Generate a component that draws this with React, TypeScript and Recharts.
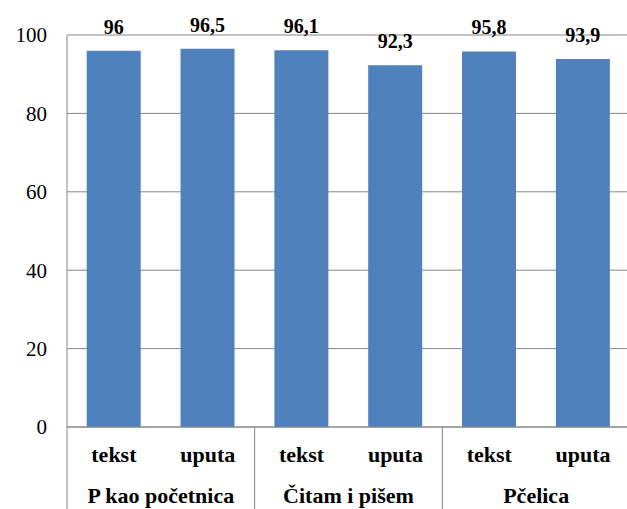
import React from 'react';
import { BarChart, Bar, XAxis, YAxis, CartesianGrid, LabelList } from 'recharts';

const groups = ['P kao početnica', 'Čitam i pišem', 'Pčelica'];
const subLabels = ['tekst', 'uputa'];
const values = [96, 96.5, 96.1, 92.3, 95.8, 93.9];
const yTicks = [0, 20, 40, 60, 80, 100];

const data = values.map((v, i) => ({
  name: `${groups[Math.floor(i / 2)]}-${subLabels[i % 2]}`,
  sub: subLabels[i % 2],
  group: groups[Math.floor(i / 2)],
  value: v,
}));

const CHART_W = 630;
const CHART_H = 509;
const Y_AXIS_W = 67;
const X_AXIS_H = 82;
const catWidth = (CHART_W - Y_AXIS_W) / data.length;

const FONT = 'Liberation Serif, DejaVu Serif, serif';
const GREY = '#868686';

const fmt = (v: number) => String(v).replace('.', ',');

const XTick = (props: any) => {
  const { x, y, index } = props;
  const d = data[index];
  const first = index % 2 === 0;
  return (
    <g>
      <text x={x} y={y + 35} textAnchor="middle" style={{ fontFamily: FONT }} fontWeight="bold" fontSize={22} fill="#000">
        {d.sub}
      </text>
      {first && (
        <>
          <line x1={x - catWidth / 2} y1={y} x2={x - catWidth / 2} y2={y + X_AXIS_H} stroke={GREY} />
          <text x={x + catWidth / 2} y={y + 76} textAnchor="middle" style={{ fontFamily: FONT }} fontWeight="bold" fontSize={22} fill="#000">
            {d.group}
          </text>
        </>
      )}
    </g>
  );
};

export default function App() {
  return (
    <div style={{ position: 'absolute', left: 0, top: 0, width: 627, height: 509, overflow: 'hidden', background: '#fff', fontFamily: FONT }}>
      <BarChart width={CHART_W} height={CHART_H} data={data} margin={{ top: 35, right: 0, left: 0, bottom: 0 }} barCategoryGap="21%">
        <CartesianGrid vertical={false} stroke={GREY} />
        <XAxis
          dataKey="name"
          height={X_AXIS_H}
          interval={0}
          tickSize={0}
          tickMargin={0}
          tickLine={false}
          axisLine={{ stroke: GREY }}
          tick={<XTick />}
        />
        <YAxis
          width={Y_AXIS_W}
          domain={[0, 100]}
          ticks={yTicks}
          tickSize={0}
          tickMargin={20}
          tickLine={false}
          axisLine={{ stroke: GREY }}
          tick={{ fontFamily: FONT, fontSize: 21, fill: '#000', style: { fontFamily: FONT } }}
        />
        <Bar dataKey="value" fill="#4F81BD" isAnimationActive={false}>
          <LabelList
            dataKey="value"
            position="top"
            offset={17}
            formatter={(v: any) => fmt(Number(v))}
            style={{ fontFamily: FONT, fontWeight: 'bold', fontSize: 20, fill: '#000' }}
          />
        </Bar>
      </BarChart>
    </div>
  );
}
